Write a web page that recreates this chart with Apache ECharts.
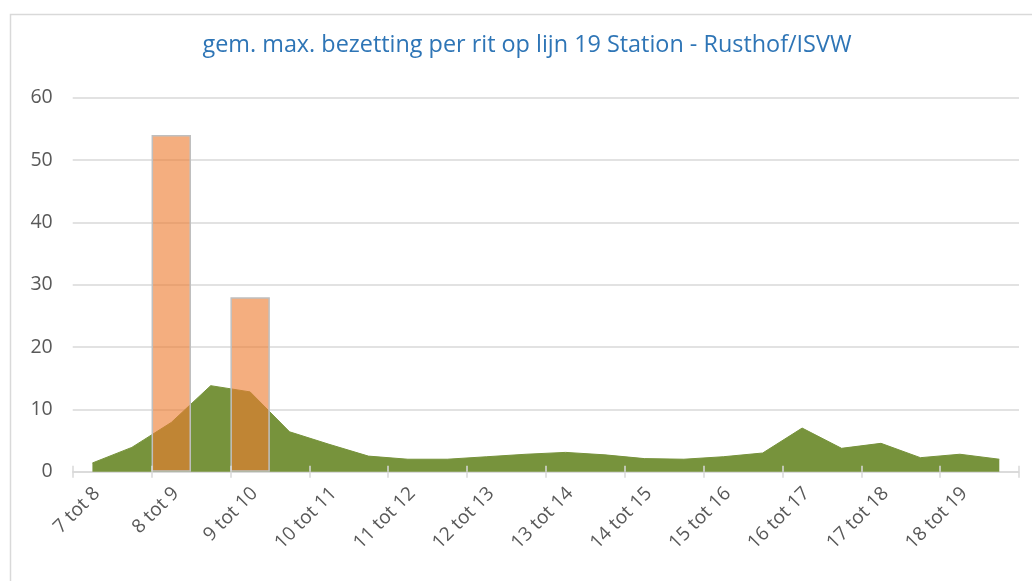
<!DOCTYPE html>
<html>
<head>
<meta charset="utf-8">
<script src="https://cdn.jsdelivr.net/npm/echarts@6/dist/echarts.min.js"></script>
<style>
html,body{margin:0;padding:0;background:#fff;}
#chart{width:1032px;height:581px;}
</style>
</head>
<body>
<div id="chart"></div>
<script>
const titleText = 'gem. max. bezetting per rit op lijn 19 Station - Rusthof/ISVW';
const categories = ['7 tot 8','8 tot 9','9 tot 10','10 tot 11','11 tot 12','12 tot 13','13 tot 14','14 tot 15','15 tot 16','16 tot 17','17 tot 18','18 tot 19'];
const halfHours = ['7:00','7:30','8:00','8:30','9:00','9:30','10:00','10:30','11:00','11:30','12:00','12:30','13:00','13:30','14:00','14:30','15:00','15:30','16:00','16:30','17:00','17:30','18:00','18:30'];
const barValues = [null,54,28,null,null,null,null,null,null,null,null,null];
const companionValues = [null,null,null,null,null,null,null,null,null,null,null,null];
const areaValues = [1.4,3.9,7.9,13.8,12.8,6.4,4.4,2.5,2.0,2.0,2.4,2.8,3.1,2.7,2.1,2.0,2.4,3.0,7.0,3.75,4.55,2.25,2.8,2.0];
const yMin = 0, yMax = 60, yStep = 10;

const chart = echarts.init(document.getElementById('chart'), null, {renderer:'canvas'});
const font = '"Open Sans", "Noto Sans", sans-serif';
chart.setOption({
  backgroundColor:'#fff',
  animation:false,
  title:{
    text:titleText,
    left:522, top:29, textAlign:'center',
    textStyle:{color:'#2e75b6', fontSize:23.4, fontWeight:'normal', fontFamily:font}
  },
  graphic:[{
    type:'rect', left:8, top:12, z:-1,
    shape:{width:1200, height:800},
    style:{fill:'none', stroke:'#d9d9d9', lineWidth:1.5}
  }],
  grid:{left:72.7, right:13, top:97.7, bottom:109.3, containLabel:false},
  xAxis:[
    {type:'category', data:categories, boundaryGap:true,
     axisLine:{show:true, lineStyle:{color:'#d9d9d9', width:1.5}},
     axisTick:{show:true, length:6, lineStyle:{color:'#d9d9d9', width:1.5}},
     axisLabel:{rotate:45, fontSize:19, color:'#595959', fontFamily:font, margin:17, interval:0,
       verticalAlign:'bottom', padding:[0,12,0,0]},
     splitLine:{show:false}},
    {type:'category', data:halfHours, boundaryGap:true, show:false},
    {type:'category', data:categories, boundaryGap:true, position:'bottom', z:10,
     axisLine:{show:false},
     axisTick:{show:true, inside:true, length:6, lineStyle:{color:'#d9d9d9', width:1.5}},
     axisLabel:{show:false}, splitLine:{show:false}}
  ],
  yAxis:{type:'value', min:yMin, max:yMax, interval:yStep,
    axisLine:{show:false}, axisTick:{show:false},
    axisLabel:{fontSize:19.5, color:'#595959', fontFamily:font, margin:20},
    splitLine:{lineStyle:{color:'#d9d9d9', width:1.5}}},
  series:[
    {type:'line', xAxisIndex:1, data:areaValues, symbol:'none', z:2,
     lineStyle:{color:'#77933c', width:1},
     areaStyle:{color:'#77933c', opacity:1}},
    {type:'bar', xAxisIndex:0, data:barValues, z:3,
     barGap:'0%', barCategoryGap:'0%',
     itemStyle:{color:'rgba(237,125,49,0.62)', borderColor:'#bfbfbf', borderWidth:1.5}},
    {type:'bar', xAxisIndex:0, data:companionValues, z:3,
     itemStyle:{color:'rgba(165,165,165,0.6)'}}
  ]
});
</script>
</body>
</html>
